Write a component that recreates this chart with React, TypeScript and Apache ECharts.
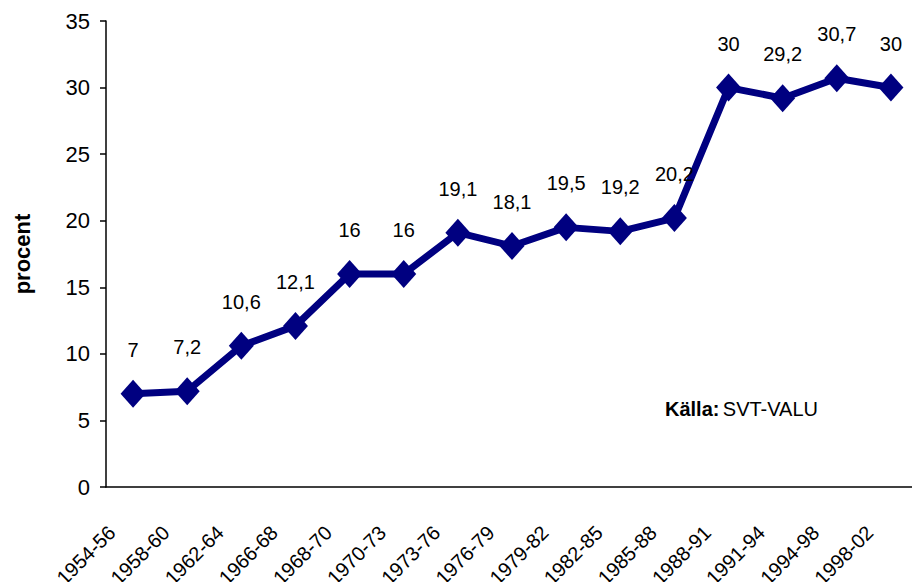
import React, { useEffect, useRef } from "react";
import * as echarts from "echarts";

const categories = [
  "1954-56", "1958-60", "1962-64", "1966-68", "1968-70", "1970-73", "1973-76",
  "1976-79", "1979-82", "1982-85", "1985-88", "1988-91", "1991-94", "1994-98", "1998-02",
];
const values = [7, 7.2, 10.6, 12.1, 16, 16, 19.1, 18.1, 19.5, 19.2, 20.2, 30, 29.2, 30.7, 30];
const yName = "procent";
const sourceBold = "Källa:";
const sourceText = "SVT-VALU";

const FONT = "'Liberation Sans', Arial, sans-serif";

export default function App() {
  const ref = useRef<HTMLDivElement>(null);
  useEffect(() => {
    if (!ref.current) return;
    const chart = echarts.init(ref.current, null, { renderer: "svg" });
    chart.setOption({
      animation: false,
      backgroundColor: "#ffffff",
      grid: { left: 106, top: 21, width: 812, height: 466, outerBoundsMode: "none", containLabel: false },
      xAxis: {
        type: "category",
        data: categories,
        boundaryGap: true,
        axisLine: { lineStyle: { color: "#000", width: 1.5 } },
        axisTick: { alignWithLabel: false, length: 6, lineStyle: { color: "#000", width: 1.5 } },
        axisLabel: {
          rotate: 45,
          margin: 21,
          padding: [0, 30, 0, 0],
          fontSize: 20,
          fontFamily: FONT,
          color: "#000",
          interval: 0,
          hideOverlap: false,
        },
        splitLine: { show: false },
      },
      yAxis: {
        type: "value",
        min: 0,
        max: 35,
        interval: 5,
        name: yName,
        nameLocation: "middle",
        nameGap: 73,
        nameTextStyle: { fontSize: 22, fontWeight: "bold", fontFamily: FONT, color: "#000" },
        axisLine: { show: true, lineStyle: { color: "#000", width: 1.5 } },
        axisTick: { show: true, length: 6, lineStyle: { color: "#000", width: 1.5 } },
        axisLabel: { fontSize: 22, fontFamily: FONT, color: "#000", margin: 16 },
        splitLine: { show: false },
      },
      series: [
        {
          type: "line",
          data: values,
          symbol: "diamond",
          symbolSize: [25, 28],
          lineStyle: { color: "#000080", width: 7 },
          itemStyle: { color: "#000080" },
          label: {
            show: true,
            position: "top",
            distance: 20,
            fontSize: 20,
            fontFamily: FONT,
            color: "#000",
            formatter: (p: any) => String(p.value).replace(".", ","),
          },
        },
      ],
      graphic: [
        {
          type: "text",
          left: 665,
          top: 399,
          style: {
            text: `{b|${sourceBold}} {n|${sourceText}}`,
            rich: {
              b: { fontSize: 20, fontWeight: "bold", fontFamily: FONT, fill: "#000" },
              n: { fontSize: 20, fontFamily: FONT, fill: "#000" },
            },
          },
        },
      ],
    });
    return () => chart.dispose();
  }, []);
  return (
    <div
      ref={ref}
      style={{ position: "fixed", left: 0, top: 0, width: 912, height: 582, background: "#fff" }}
    />
  );
}
